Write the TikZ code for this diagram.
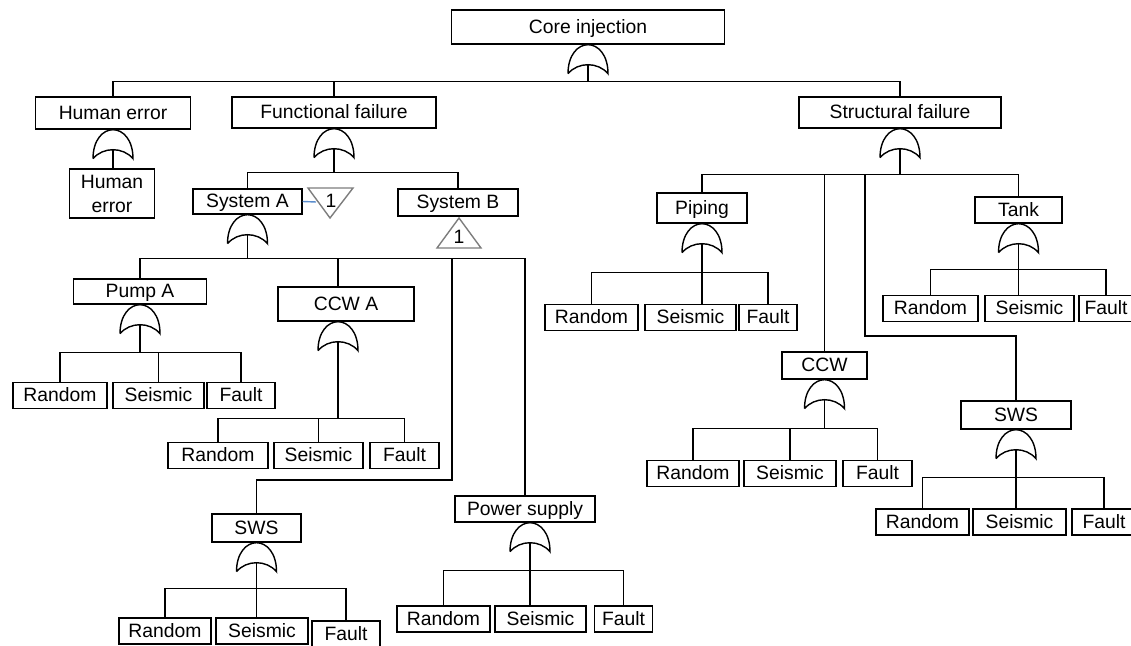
\documentclass[tikz,border=0pt]{standalone}
\usepackage{fontspec}
\setmainfont{Liberation Sans}
\usepackage{tikz}
\usetikzlibrary{calc}
\definecolor{linkblue}{RGB}{91,141,205}
\definecolor{trigray}{RGB}{125,125,125}
\tikzset{
  evbox/.style={draw, rectangle, inner sep=0pt,
    font=\fontsize{11}{13.6}\selectfont},
  ev/.style={evbox, text height=0.72em, text depth=0pt},
  leaf/.style={ev, minimum height=0.52cm},
  orgate/.pic={
    \draw (-20,29) .. controls (-20,10) and (-10,0) .. (0,0)
      .. controls (10,0) and (20,10) .. (20,29)
      .. controls (10,17) and (-10,17) .. (-20,29);
    \coordinate (-out) at (0,20);
  }
}

\begin{document}
\begin{tikzpicture}[x=0.02cm, y=-0.02cm, line width=0.8pt]
  \useasboundingbox (0,0) rectangle (1131,645);
  \clip (0,0) rectangle (1131,645);

  \node[ev, minimum width=5.46cm, minimum height=0.68cm] (core) at (588,27) {Core injection};
  \node[ev, minimum width=3.1cm, minimum height=0.64cm] (hum) at (113,113) {Human error};
  \node[evbox, align=center, minimum width=1.7cm, minimum height=0.98cm] (hume) at (112,193.5) {Human\\error};
  \node[ev, minimum width=4.08cm, minimum height=0.62cm] (fun) at (334,112.5) {Functional failure};
  \node[ev, minimum width=4.04cm, minimum height=0.62cm] (str) at (900,112.5) {Structural failure};
  \node[ev, minimum width=2.18cm, minimum height=0.5cm] (sysA) at (247.5,201.5) {System A};
  \node[ev, minimum width=2.4cm, minimum height=0.54cm] (sysB) at (458,202.5) {System B};
  \node[ev, minimum width=2.66cm, minimum height=0.5cm] (pumpA) at (140,291.5) {Pump A};
  \node[ev, minimum width=2.72cm, minimum height=0.68cm] (ccwA) at (346,304) {CCW A};
  \node[ev, minimum width=1.78cm, minimum height=0.56cm] (sws1) at (256.5,528) {SWS};
  \node[ev, minimum width=2.8cm, minimum height=0.52cm] (pwr) at (525,509) {Power supply};
  \node[ev, minimum width=1.8cm, minimum height=0.6cm] (pip) at (702,208) {Piping};
  \node[ev, minimum width=1.74cm, minimum height=0.52cm] (tank) at (1018.5,210) {Tank};
  \node[ev, minimum width=1.7cm, minimum height=0.54cm] (ccw) at (824.5,365.5) {CCW};
  \node[ev, minimum width=2.2cm, minimum height=0.56cm] (sws2) at (1016,415) {SWS};

  \foreach \n/\x/\y/\w/\lbl in {
      r1/60/395.5/94/Random, s1/158.5/395.5/91/Seismic, f1/241/395.5/68/Fault,
      r2/218/455.5/100/Random, s2/318.5/455.5/89/Seismic, f2/404.5/455.5/69/Fault,
      r3/165/631/92/Random, s3/262/631/92/Seismic, f3/346/634/68/Fault,
      r4/443.5/619/93/Random, s4/540.5/619/91/Seismic, f4/623.5/619/58/Fault,
      r5/591.5/317.5/93/Random, s5/690.5/317.5/91/Seismic, f5/768/317.5/58/Fault,
      r6/930.5/308.5/95/Random, s6/1029.5/308.5/89/Seismic, f6/1106/308.5/54/Fault,
      r7/693/473.5/92/Random, s7/790/473.5/92/Seismic, f7/877.5/473.5/69/Fault,
      r8/922.5/522/93/Random, s8/1019.5/522/93/Seismic, f8/1104/522/64/Fault}
    \node[leaf, minimum width=\w*0.02cm] (\n) at (\x,\y) {\lbl};

  \pic (gc) at (core.south) {orgate};
  \pic (gh) at (hum.south) {orgate};
  \pic (gf) at (fun.south) {orgate};
  \pic (gs) at (str.south) {orgate};
  \pic (ga) at (sysA.south) {orgate};
  \pic (gpa) at (pumpA.south) {orgate};
  \path (ccwA.south) ++(-8,0) pic (gca) {orgate};
  \pic (gs1) at (sws1.south) {orgate};
  \path (pwr.south) ++(5,0) pic (gpw) {orgate};
  \pic (gpi) at (pip.south) {orgate};
  \pic (gt) at (tank.south) {orgate};
  \pic (gcw) at (ccw.south) {orgate};
  \pic (gs2) at (sws2.south) {orgate};

  \draw (gc-out) -- ++(0,17) coordinate (b0);
  \draw (hum.north) |- (b0);
  \draw (fun.north) |- (b0);
  \draw (str.north) |- (b0);

  \draw (gh-out) -- (gh-out |- hume.north);

  \draw (gf-out) -- ++(0,24) coordinate (b1);
  \draw (sysA.north) |- (b1);
  \draw (sysB.north) |- (b1);

  \draw[trigray] (308,188) -- (353,188) -- (330,218) -- cycle;
  \node[ev, draw=none] (t1) at (331,201) {1};
  \coordinate (t1a) at (316,202);
  \draw[linkblue] (sysA.east) -- (t1a);
  \draw[trigray] (459,218) -- (481,248) -- (437,248) -- cycle;
  \node[ev, draw=none] (t2) at (459,237) {1};

  \draw (ga-out) -- ++(0,24) coordinate (b2);
  \coordinate (k1) at (452,480);
  \draw (pumpA.north) |- (b2);
  \draw (ccwA.north) ++(-8,0) |- (b2);
  \draw (sws1.north) |- (k1) |- (b2);
  \draw (pwr.north) |- (b2);

  \draw (gpa-out) -- ++(0,28) coordinate (b3);
  \draw (r1.north) |- (b3);
  \draw (f1.north) |- (b3);
  \draw (s1.north) -- (s1.north |- b3);

  \draw (gca-out) -- ++(0,77) coordinate (b4);
  \draw (r2.north) |- (b4);
  \draw (f2.north) |- (b4);
  \draw (s2.north) -- (s2.north |- b4);

  \draw (gs1-out) -- ++(0,26) coordinate (b5) -- (b5 |- s3.north);
  \draw (r3.north) |- (b5);
  \draw (f3.north) |- (b5);

  \draw (gpw-out) -- ++(0,28) coordinate (b6) -- (b6 |- s4.north);
  \draw (r4.north) |- (b6);
  \draw (f4.north) |- (b6);

  \draw (gs-out) -- ++(0,26) coordinate (b7);
  \coordinate (k2) at (865,336);
  \draw (pip.north) |- (b7);
  \draw (ccw.north) |- (b7);
  \draw (sws2.north) |- (k2) |- (b7);
  \draw (tank.north) |- (b7);

  \draw (gpi-out) -- ++(0,29) coordinate (b8) -- (b8 |- s5.north);
  \draw (r5.north) |- (b8);
  \draw (f5.north) |- (b8);

  \draw (gt-out) -- ++(0,26) coordinate (b9) -- (b9 |- s6.north);
  \draw (r6.north) |- (b9);
  \draw (f6.north) |- (b9);

  \draw (gcw-out) -- ++(0,29) coordinate (b10);
  \draw (r7.north) |- (b10);
  \draw (f7.north) |- (b10);
  \draw (s7.north) -- (s7.north |- b10);

  \draw (gs2-out) -- ++(0,28) coordinate (b11) -- (b11 |- s8.north);
  \draw (r8.north) |- (b11);
  \draw (f8.north) |- (b11);
\end{tikzpicture}
\end{document}
